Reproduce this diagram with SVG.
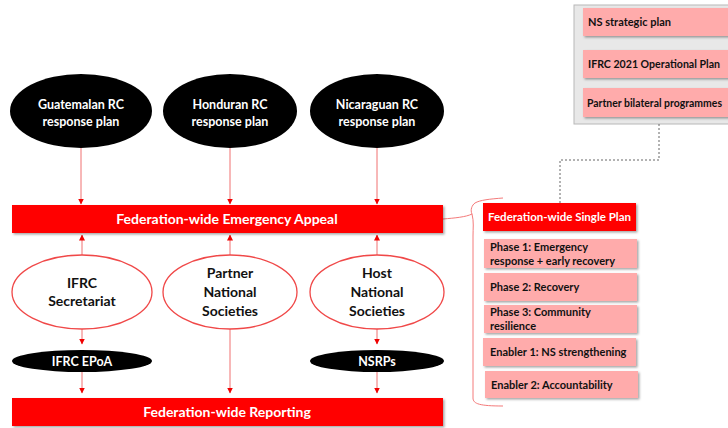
<svg xmlns="http://www.w3.org/2000/svg" width="728" height="428" viewBox="0 0 728 428">
<defs>
<filter id="sh" x="-10%" y="-20%" width="130%" height="160%">
<feDropShadow dx="1.5" dy="1.5" stdDeviation="1.2" flood-color="#000" flood-opacity="0.35"/>
</filter>
<marker id="ah" viewBox="0 0 6 6" refX="5.5" refY="3" markerWidth="6" markerHeight="6" markerUnits="userSpaceOnUse" orient="auto">
<path d="M0,0 L6,3 L0,6 Z" fill="#f00000"/>
</marker>
</defs>
<style>
text{font-family:Lato,"Open Sans","Liberation Sans",sans-serif;font-weight:bold;}
.bar{fill:#ff0000;filter:url(#sh);}
.bartxt{fill:#fff;font-size:14px;text-anchor:middle;}
.blk{fill:#000;}
.blktxt{fill:#fff;font-size:12.5px;text-anchor:middle;}
.oval{fill:#fff;stroke:#f04848;stroke-width:1.3;}
.ovaltxt{fill:#111;font-size:14px;text-anchor:middle;}
.pink{fill:#ffabab;filter:url(#sh);}
.pinktxt{fill:#111;font-size:11px;}
.conn{stroke:#f07070;stroke-width:1;fill:none;marker-end:url(#ah);}
.brace{stroke:#f47a7a;stroke-width:1;fill:none;}
.dash{stroke:#666;stroke-width:1;stroke-dasharray:2,2;fill:none;}
</style>

<g id="plans-box">
<rect x="574" y="5" width="160" height="119" fill="#e8e8e8" stroke="#b8b8b8" stroke-width="1"/>
<rect class="pink" x="583" y="8" width="150" height="28"/>
<text class="pinktxt" x="588" y="26">NS strategic plan</text>
<rect class="pink" x="583" y="50" width="150" height="28"/>
<text class="pinktxt" x="588" y="68" textLength="132" lengthAdjust="spacingAndGlyphs">IFRC 2021 Operational  Plan</text>
<rect class="pink" x="583" y="88" width="150" height="29"/>
<text class="pinktxt" x="587" y="107" textLength="135" lengthAdjust="spacingAndGlyphs">Partner bilateral programmes</text>
</g>

<g id="connectors">
<path class="dash" d="M659,124 V160 H560 V203"/>
<line class="conn" x1="81" y1="148" x2="81" y2="204"/>
<line class="conn" x1="230" y1="148" x2="230" y2="204"/>
<line class="conn" x1="377" y1="148" x2="377" y2="204"/>
<line class="conn" x1="82" y1="255" x2="82" y2="235"/>
<line class="conn" x1="230" y1="255" x2="230" y2="235"/>
<line class="conn" x1="377" y1="255" x2="377" y2="235"/>
<line class="conn" x1="82" y1="328" x2="82" y2="344"/>
<line class="conn" x1="377" y1="328" x2="377" y2="344"/>
<line class="conn" x1="82" y1="372" x2="82" y2="393"/>
<line class="conn" x1="377" y1="372" x2="377" y2="393"/>
<line class="conn" x1="230" y1="328" x2="230" y2="393"/>
<path class="brace" d="M443,219 C455,218 466,217 472,214 C470,210 472,205 475,203 C480,200 490,199 503,198"/>
<path class="brace" d="M472,214 C474,222 473,228 473,236 V398 C473,404 480,406 503,406"/>
</g>

<g id="guatemalan">
<ellipse class="blk" cx="81" cy="111" rx="71" ry="37"/>
<text class="blktxt" x="81" y="109">Guatemalan RC</text>
<text class="blktxt" x="81" y="126">response plan</text>
</g>
<g id="honduran">
<ellipse class="blk" cx="230" cy="111" rx="67" ry="37"/>
<text class="blktxt" x="230" y="109">Honduran RC</text>
<text class="blktxt" x="230" y="126">response plan</text>
</g>
<g id="nicaraguan">
<ellipse class="blk" cx="377" cy="111" rx="67" ry="37"/>
<text class="blktxt" x="377" y="109">Nicaraguan RC</text>
<text class="blktxt" x="377" y="126">response plan</text>
</g>

<g id="appeal">
<rect class="bar" x="12" y="205" width="431" height="28"/>
<text class="bartxt" x="227" y="224">Federation-wide Emergency Appeal</text>
</g>

<g id="ifrc-secretariat">
<ellipse class="oval" cx="82" cy="292" rx="70" ry="37"/>
<text class="ovaltxt" x="82" y="288">IFRC</text>
<text class="ovaltxt" x="82" y="306">Secretariat</text>
</g>
<g id="partner-ns">
<ellipse class="oval" cx="230" cy="292" rx="67" ry="37"/>
<text class="ovaltxt" x="230" y="278">Partner</text>
<text class="ovaltxt" x="230" y="297">National</text>
<text class="ovaltxt" x="230" y="316">Societies</text>
</g>
<g id="host-ns">
<ellipse class="oval" cx="377" cy="292" rx="67" ry="37"/>
<text class="ovaltxt" x="377" y="278">Host</text>
<text class="ovaltxt" x="377" y="297">National</text>
<text class="ovaltxt" x="377" y="316">Societies</text>
</g>

<g id="ifrc-epoa">
<ellipse class="blk" cx="82" cy="361" rx="70" ry="11"/>
<text class="blktxt" x="82" y="365.5">IFRC EPoA</text>
</g>
<g id="nsrps">
<ellipse class="blk" cx="377" cy="361" rx="67" ry="11"/>
<text class="blktxt" x="377" y="365.5">NSRPs</text>
</g>

<g id="reporting">
<rect class="bar" x="12" y="398" width="431" height="28"/>
<text class="bartxt" x="227" y="417">Federation-wide Reporting</text>
</g>

<g id="single-plan">
<rect class="bar" x="483" y="203" width="153" height="28"/>
<text x="559.5" y="221" fill="#fff" font-size="11.5" text-anchor="middle">Federation-wide Single Plan</text>
</g>
<g id="phase1">
<rect class="pink" x="484" y="239" width="153" height="29"/>
<text class="pinktxt" x="490" y="251">Phase  1: Emergency</text>
<text class="pinktxt" x="490" y="265">response + early recovery</text>
</g>
<g id="phase2">
<rect class="pink" x="484" y="273" width="153" height="28"/>
<text class="pinktxt" x="490" y="291">Phase  2: Recovery</text>
</g>
<g id="phase3">
<rect class="pink" x="484" y="305" width="153" height="28"/>
<text class="pinktxt" x="490" y="316">Phase  3: Community</text>
<text class="pinktxt" x="490" y="330">resilience</text>
</g>
<g id="enabler1">
<rect class="pink" x="483" y="338" width="153" height="28"/>
<text class="pinktxt" x="490" y="356">Enabler  1: NS strengthening</text>
</g>
<g id="enabler2">
<rect class="pink" x="485" y="371" width="153" height="27"/>
<text class="pinktxt" x="491" y="389">Enabler  2: Accountability</text>
</g>
</svg>
